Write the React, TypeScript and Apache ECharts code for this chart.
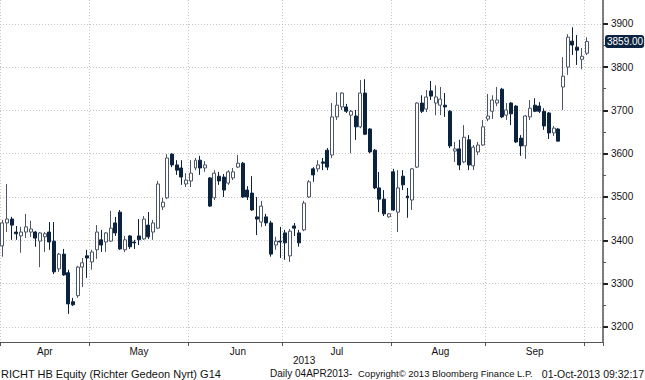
import React, { useEffect, useRef } from 'react';
import * as echarts from 'echarts';

// ---- data -----------------------------------------------------------
const monthNames = ['Apr', 'May', 'Jun', 'Jul', 'Aug', 'Sep', 'Oct'];
const monthNums = [4, 5, 6, 7, 8, 9, 10];

const aprDays = [4, 5, 8, 9, 10, 11, 12, 15, 16, 17, 18, 19, 22, 23, 24, 25, 26, 29, 30];
const mayDays = [2, 3, 6, 7, 8, 9, 10, 13, 14, 15, 16, 17, 21, 22, 23, 24, 27, 28, 29, 30, 31];
const junDays = [3, 4, 5, 6, 7, 10, 11, 12, 13, 14, 17, 18, 19, 20, 21, 24, 25, 26, 27, 28];
const julDays = [1, 2, 3, 4, 5, 8, 9, 10, 11, 12, 15, 16, 17, 18, 19, 22, 23, 24, 25, 26, 29, 30, 31];
const augDays = [1, 2, 5, 6, 7, 8, 9, 12, 13, 14, 15, 16, 21, 22, 23, 26, 27, 28, 29, 30];
const sepDays = [2, 3, 4, 5, 6, 9, 10, 11, 12, 13, 16, 17, 18, 19, 20, 23, 24, 25, 26, 27, 30];
const octDays = [1];

// [open, close, low, high]
const aprOHLC = [
  [3387, 3440, 3362, 3447], [3440, 3449, 3419, 3530], [3449, 3435, 3401, 3454], [3419, 3415, 3401, 3433],
  [3410, 3419, 3371, 3431], [3419, 3431, 3405, 3461], [3419, 3426, 3408, 3445], [3419, 3405, 3385, 3421],
  [3398, 3417, 3338, 3419], [3408, 3415, 3373, 3419], [3419, 3396, 3378, 3442], [3398, 3327, 3322, 3442],
  [3334, 3368, 3327, 3371], [3368, 3320, 3318, 3380], [3325, 3253, 3230, 3332], [3258, 3251, 3248, 3267],
  [3272, 3338, 3267, 3341], [3338, 3348, 3292, 3359], [3364, 3359, 3313, 3378],
];
const mayOHLC = [
  [3350, 3373, 3332, 3378], [3378, 3419, 3357, 3435], [3401, 3389, 3373, 3424], [3396, 3417, 3373, 3419],
  [3398, 3428, 3396, 3468], [3440, 3417, 3410, 3454], [3465, 3380, 3378, 3470], [3378, 3401, 3373, 3410],
  [3410, 3385, 3380, 3412], [3396, 3394, 3380, 3401], [3410, 3401, 3389, 3449], [3403, 3449, 3401, 3456],
  [3435, 3408, 3403, 3465], [3419, 3440, 3401, 3447], [3428, 3530, 3426, 3537], [3477, 3488, 3470, 3498],
  [3498, 3590, 3495, 3599], [3599, 3574, 3569, 3601], [3574, 3562, 3551, 3585], [3567, 3546, 3528, 3585],
  [3530, 3539, 3523, 3555],
];
const junOHLC = [
  [3537, 3555, 3523, 3585], [3567, 3585, 3562, 3590], [3585, 3567, 3551, 3595], [3567, 3574, 3558, 3583],
  [3544, 3479, 3477, 3546], [3498, 3555, 3493, 3562], [3548, 3537, 3528, 3558], [3546, 3516, 3500, 3553],
  [3532, 3558, 3528, 3562], [3544, 3558, 3539, 3567], [3569, 3578, 3567, 3597], [3578, 3500, 3498, 3581],
  [3516, 3500, 3493, 3525], [3509, 3470, 3468, 3548], [3454, 3449, 3412, 3500], [3442, 3479, 3431, 3491],
  [3454, 3440, 3433, 3461], [3440, 3368, 3362, 3445], [3389, 3398, 3378, 3408], [3398, 3396, 3359, 3431],
];
const julOHLC = [
  [3417, 3394, 3355, 3424], [3364, 3421, 3350, 3426], [3433, 3428, 3410, 3440], [3417, 3394, 3385, 3424],
  [3424, 3486, 3421, 3491], [3500, 3535, 3498, 3539], [3565, 3551, 3535, 3569], [3565, 3574, 3558, 3585],
  [3581, 3578, 3562, 3590], [3608, 3569, 3562, 3613], [3597, 3685, 3590, 3717], [3685, 3712, 3678, 3742],
  [3708, 3740, 3701, 3742], [3708, 3698, 3694, 3715], [3689, 3698, 3601, 3701], [3687, 3662, 3632, 3701],
  [3662, 3740, 3659, 3770], [3740, 3645, 3643, 3772], [3657, 3604, 3601, 3659], [3608, 3521, 3518, 3611],
  [3521, 3495, 3465, 3558], [3495, 3461, 3456, 3516], [3454, 3461, 3452, 3463],
];
const augOHLC = [
  [3558, 3470, 3468, 3565], [3465, 3521, 3419, 3562], [3548, 3528, 3516, 3562], [3502, 3498, 3452, 3521],
  [3493, 3565, 3470, 3567], [3569, 3717, 3567, 3719], [3717, 3698, 3694, 3735], [3703, 3731, 3696, 3747],
  [3745, 3733, 3724, 3768], [3717, 3731, 3689, 3758], [3712, 3726, 3689, 3754], [3712, 3708, 3685, 3740],
  [3698, 3618, 3613, 3701], [3606, 3611, 3581, 3627], [3611, 3574, 3562, 3632], [3581, 3638, 3578, 3666],
  [3632, 3574, 3562, 3643], [3572, 3615, 3562, 3620], [3604, 3620, 3597, 3627], [3620, 3662, 3618, 3678],
];
const sepOHLC = [
  [3680, 3687, 3675, 3738], [3698, 3724, 3680, 3735], [3717, 3724, 3710, 3754], [3749, 3685, 3682, 3752],
  [3689, 3701, 3678, 3717], [3717, 3692, 3666, 3719], [3710, 3627, 3625, 3712], [3636, 3618, 3595, 3643],
  [3618, 3687, 3588, 3689], [3685, 3705, 3678, 3724], [3712, 3698, 3696, 3728], [3710, 3698, 3694, 3719],
  [3698, 3664, 3655, 3705], [3694, 3648, 3634, 3696], [3648, 3659, 3641, 3664], [3657, 3629, 3629, 3659],
  [3754, 3779, 3701, 3823], [3800, 3869, 3782, 3876], [3860, 3851, 3828, 3892], [3846, 3839, 3805, 3874],
  [3818, 3825, 3795, 3844],
];
const octOHLC = [[3832, 3859, 3828, 3869]];

const yTicks = [3200, 3300, 3400, 3500, 3600, 3700, 3800, 3900];
const yMinorTicks = [3250, 3350, 3450, 3550, 3650, 3750, 3850];
const yMin = 3165;
const yMax = 3955;
const emptySlots = 3;
const lastClose = 3859;

const daysByMonth = [aprDays, mayDays, junDays, julDays, augDays, sepDays, octDays];
const ohlcByMonth = [aprOHLC, mayOHLC, junOHLC, julOHLC, augOHLC, sepOHLC, octOHLC];

const FONT = 'Liberation Sans, Arial, sans-serif';

function buildData() {
  const categories: string[] = [];
  const values: number[][] = [];
  const monthStart = new Set<number>();
  const labelAt = new Map<number, string>();
  daysByMonth.forEach((days, m) => {
    const start = categories.length;
    monthStart.add(start);
    days.forEach((d) => {
      categories.push(`2013-${String(monthNums[m]).padStart(2, '0')}-${String(d).padStart(2, '0')}`);
    });
    ohlcByMonth[m].forEach((v) => values.push(v));
    const end = categories.length - 1;
    if (monthNames[m] !== 'Oct') labelAt.set(Math.round((start + end) / 2), monthNames[m]);
  });
  for (let k = 0; k < emptySlots; k++) categories.push(`pad-${k}`);
  return { categories, values, monthStart, labelAt };
}

export default function App() {
  const ref = useRef<HTMLDivElement>(null);
  useEffect(() => {
    if (!ref.current) return;
    const chart = echarts.init(ref.current, undefined, { renderer: 'svg' });
    const { categories, values, monthStart, labelAt } = buildData();
    const option: any = {
      animation: false,
      backgroundColor: '#ffffff',
      grid: { left: 0, right: 42, top: 0, bottom: 38, containLabel: false },
      xAxis: {
        type: 'category',
        data: categories,
        boundaryGap: true,
        axisLine: { show: true, lineStyle: { color: '#555', width: 1 } },
        axisTick: {
          show: true,
          interval: (i: number) => monthStart.has(i),
          length: 4,
          lineStyle: { color: '#555' },
        },
        splitLine: {
          show: true,
          interval: (i: number) => monthStart.has(i),
          lineStyle: { color: '#c6c6c6', type: [1, 2], width: 1 },
        },
        axisLabel: {
          interval: (i: number) => labelAt.has(i),
          formatter: (_v: string, i: number) => labelAt.get(i) ?? '',
          color: '#111',
          fontSize: 10,
          margin: 4,
          fontFamily: FONT,
        },
      },
      yAxis: [
        {
          type: 'value',
          position: 'right',
          min: yMin,
          max: yMax,
          axisLine: { show: true, lineStyle: { color: '#555', width: 1.5 } },
          axisTick: { show: true, customValues: yTicks, length: 5, lineStyle: { color: '#222', width: 2 } },
          axisLabel: {
            customValues: yTicks,
            formatter: (v: number) => String(v),
            color: '#111',
            fontSize: 10,
            margin: 8,
            fontFamily: FONT,
          },
          splitLine: { show: true, lineStyle: { color: '#c6c6c6', type: [1, 2], width: 1 } },
        },
        {
          type: 'value',
          position: 'right',
          min: yMin,
          max: yMax,
          axisLine: { show: false },
          axisTick: { show: true, customValues: yMinorTicks, length: 3, lineStyle: { color: '#555', width: 1 } },
          axisLabel: { show: false },
          splitLine: { show: false },
        },
      ],
      series: [
        {
          type: 'candlestick',
          data: values,
          yAxisIndex: 0,
          barWidth: '74%',
          itemStyle: {
            color: '#ffffff',
            color0: '#0c2340',
            borderColor: '#4b5667',
            borderColor0: '#0c2340',
            borderWidth: 1,
          },
          markLine: {
            silent: true,
            symbol: 'none',
            lineStyle: { color: 'rgba(0,0,0,0)', width: 0 },
            data: [{ yAxis: lastClose }],
            label: {
              show: true,
              position: 'end',
              distance: 2,
              formatter: lastClose.toFixed(2),
              color: '#ffffff',
              backgroundColor: '#0c2340',
              borderRadius: 3,
              padding: [2, 1, 1, 2],
              fontSize: 10,
              fontFamily: FONT,
            },
          },
        },
      ],
      graphic: [
        { type: 'text', left: 293, top: 355, style: { text: '2013', fill: '#111', font: `10px ${FONT}` } },
        { type: 'text', left: 1, top: 368, style: { text: 'RICHT HB Equity (Richter Gedeon Nyrt) G14', fill: '#111', font: `11px ${FONT}` } },
        { type: 'text', left: 270, top: 368, style: { text: 'Daily 04APR2013-', fill: '#111', font: `10px ${FONT}` } },
        { type: 'text', left: 358, top: 368, style: { text: 'Copyright\u00a9 2013 Bloomberg Finance L.P.', fill: '#111', font: `9.5px ${FONT}` } },
        { type: 'text', right: 1, top: 368, style: { text: '01-Oct-2013 09:32:17', fill: '#111', font: `10.5px ${FONT}` } },
      ],
    };
    chart.setOption(option);
    return () => chart.dispose();
  }, []);
  return (
    <div
      ref={ref}
      style={{ position: 'fixed', left: 0, top: 0, width: 645, height: 380, background: '#fff' }}
    />
  );
}
